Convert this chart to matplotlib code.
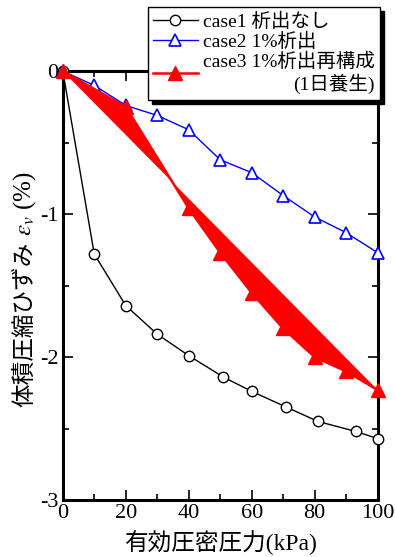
import matplotlib
matplotlib.use("Agg")
import matplotlib.pyplot as plt
from matplotlib.ticker import MultipleLocator

plt.rcParams['font.family'] = ['Liberation Serif', 'Noto Sans CJK JP']
plt.rcParams['mathtext.fontset'] = 'stix'
plt.rcParams['axes.unicode_minus'] = False

# case1 析出なし
x1 = [0, 10, 20, 30, 40, 51, 60, 71, 81, 93, 100]
y1 = [0, -1.28, -1.64, -1.84, -1.99, -2.14, -2.24, -2.35, -2.45, -2.52, -2.57]
# case2 1%析出
x2 = [0, 10, 20, 30, 40, 50, 60, 70, 80, 90, 100]
y2 = [0, -0.10, -0.24, -0.31, -0.41, -0.62, -0.71, -0.87, -1.02, -1.13, -1.27]
# case3 1%析出再構成 (1日養生)
x3 = [0, 20, 40, 50, 60, 70, 80, 90, 100]
y3 = [0, -0.25, -0.96, -1.27, -1.55, -1.80, -2.00, -2.10, -2.23]

labels = ['case1 析出なし', 'case2 1%析出', 'case3 1%析出再構成\n(1日養生)']

fig = plt.figure(figsize=(3.95, 5.57), dpi=100)
ax = fig.add_axes([0.159, 0.1023, 0.797, 0.770])

ax.plot(x1, y1, color='black', lw=1.0, marker='o', ms=7.5, mfc='white',
        mec='black', mew=1.0, clip_on=False, zorder=3, label=labels[0])
ax.plot(x2, y2, color='blue', lw=1.0, marker='^', ms=9, mfc='white',
        mec='blue', mew=1.2, clip_on=False, zorder=4, label=labels[1])
ax.fill(x3, y3, color='red', lw=0, zorder=5, clip_on=False)
ax.plot(x3, y3, color='red', lw=1.8, marker='^', ms=10.5, mfc='red',
        mec='red', clip_on=False, zorder=6, label=labels[2])

ax.set_xlim(0, 100)
ax.set_ylim(-3, 0)
ax.xaxis.set_major_locator(MultipleLocator(20))
ax.xaxis.set_minor_locator(MultipleLocator(10))
ax.yaxis.set_major_locator(MultipleLocator(1))
ax.yaxis.set_minor_locator(MultipleLocator(0.5))
ax.tick_params(which='both', direction='in', top=True, right=True,
               labelsize=16, width=1.2, pad=3)
ax.tick_params(which='major', length=7)
ax.tick_params(which='minor', length=4)
for s in ax.spines.values():
    s.set_linewidth(2.2)

ax.set_xlabel('有効圧密圧力(kPa)', fontsize=17, labelpad=5)

# y label: CJK part and math part as separate texts
fig.text(0.063, 0.269, '体積圧縮ひずみ', rotation=90, fontsize=17,
         ha='center', va='bottom')
fig.text(0.063, 0.577, '$\\varepsilon_v$ (%)', rotation=90, fontsize=18,
         ha='center', va='bottom')

leg = ax.legend(loc='upper right', bbox_to_anchor=(0.962, 0.987),
                bbox_transform=fig.transFigure, fontsize=14,
                frameon=True, fancybox=False, edgecolor='black',
                framealpha=1, borderpad=0.28, labelspacing=0.08,
                handlelength=2.3, handletextpad=0.25, borderaxespad=0,
                shadow={'color': 'black', 'alpha': 1, 'ox': 3, 'oy': -3})
leg.get_frame().set_linewidth(1.0)
for t in leg.get_texts():
    t.set_multialignment('right')

fig.savefig('out.png', dpi=100)
